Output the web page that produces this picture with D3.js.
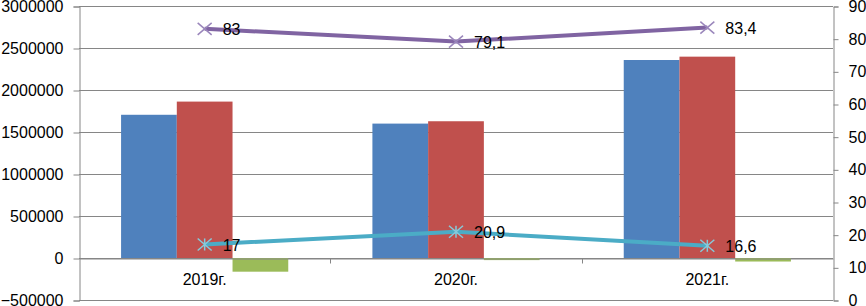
<!DOCTYPE html>
<html lang="ru">
<head>
    <meta charset="UTF-8">
    <title>Chart</title>
    <script src="https://cdn.jsdelivr.net/npm/d3@7"></script>
    <style>
        body { margin: 0; background: #fff; }
        text { font-family: "Liberation Sans", Arial, sans-serif; }
    </style>
</head>
<body>
<script type="application/javascript">
    // категории
    const years = ['2019г.', '2020г.', '2021г.'];
    // столбцы (левая ось)
    const barSeries = ['s1', 's2', 's3'];
    const s1 = [1705000, 1600000, 2357000];
    const s2 = [1862000, 1628000, 2397000];
    const s3 = [-163000, -25000, -42000];
    // линии (правая ось)
    const lineUp = [83, 79.1, 83.4];
    const lineDown = [17, 20.9, 16.6];
    // подписи осей
    const leftTicks = [-500000, 0, 500000, 1000000, 1500000, 2000000, 2500000, 3000000];
    const rightTicks = [0, 10, 20, 30, 40, 50, 60, 70, 80, 90];

    const w = 866, h = 306;
    const plotLeft = 79, plotRight = 833, plotTop = 6, plotBottom = 300;
    const gray = '#868686';

    let svg = d3.select('body')
        .append('svg')
        .attr('width', w)
        .attr('height', h);

    // ось категорий
    let xScale = d3.scaleBand()
        .domain(years)
        .range([plotLeft, plotRight])
        .paddingInner(0)
        .paddingOuter(0);

    let xSub = d3.scaleBand()
        .domain(barSeries)
        .range([0, xScale.bandwidth()])
        .paddingInner(0)
        .paddingOuter(0.755);

    let yScale = d3.scaleLinear()
        .domain([-500000, 3000000])
        .range([plotBottom, plotTop]);

    let y2Scale = d3.scaleLinear()
        .domain([0, 90])
        .range([plotBottom, plotTop]);

    // сетка
    svg.append('g')
        .selectAll('line')
        .data(leftTicks)
        .enter()
        .append('line')
        .attr('x1', plotLeft)
        .attr('x2', plotRight)
        .attr('y1', d => Math.round(yScale(d)) + 0.5)
        .attr('y2', d => Math.round(yScale(d)) + 0.5)
        .attr('stroke', gray)
        .attr('stroke-width', 1);

    // левая ось
    let leftAxis = svg.append('g')
        .attr('transform', 'translate(' + (plotLeft + 0.5) + ',0.5)')
        .call(d3.axisLeft(yScale).tickValues(leftTicks).tickSize(6).tickPadding(10).tickFormat(d3.format('d')));

    // правая ось
    let rightAxis = svg.append('g')
        .attr('transform', 'translate(' + (plotRight + 0.5) + ',0.5)')
        .call(d3.axisRight(y2Scale).tickValues(rightTicks).tickSize(5).tickPadding(10));

    [leftAxis, rightAxis].forEach(a => {
        a.select('.domain').attr('stroke', gray);
        a.selectAll('.tick line').attr('stroke', gray);
        a.selectAll('text').attr('font-size', '16px').attr('fill', '#000')
            .style('font-family', '"Liberation Sans", Arial, sans-serif');
    });

    // столбцы
    const barData = [];
    const colors = { s1: '#4f81bd', s2: '#c0504d', s3: '#9bbb59' };
    const vals = { s1: s1, s2: s2, s3: s3 };
    years.forEach((yr, i) => {
        barSeries.forEach(s => barData.push({ year: yr, key: s, value: vals[s][i] }));
    });

    svg.append('g')
        .selectAll('rect')
        .data(barData)
        .enter()
        .append('rect')
        .attr('x', d => xScale(d.year) + xSub(d.key))
        .attr('width', xSub.bandwidth())
        .attr('y', d => yScale(Math.max(0, d.value)))
        .attr('height', d => Math.abs(yScale(d.value) - yScale(0)))
        .attr('fill', d => colors[d.key]);

    // горизонтальная ось на нуле
    let zeroY = Math.round(yScale(0)) + 0.5;
    let bottomAxis = svg.append('g')
        .attr('transform', 'translate(0,' + zeroY + ')')
        .call(d3.axisBottom(xScale).tickSize(0).tickPadding(15));
    bottomAxis.select('.domain').attr('stroke', gray);
    bottomAxis.selectAll('text').attr('font-size', '16px').attr('fill', '#000')
        .style('font-family', '"Liberation Sans", Arial, sans-serif');

    // засечки между категориями
    svg.append('g')
        .selectAll('line')
        .data(years.slice(1))
        .enter()
        .append('line')
        .attr('x1', d => Math.round(xScale(d)) + 0.5)
        .attr('x2', d => Math.round(xScale(d)) + 0.5)
        .attr('y1', zeroY)
        .attr('y2', zeroY + 5)
        .attr('stroke', gray);

    // линии
    const cx = d => xScale(d) + xScale.bandwidth() / 2;
    const lines = [
        { values: lineUp, color: '#8064a2', marker: '#9a86bb', star: false },
        { values: lineDown, color: '#4bacc6', marker: '#86cadb', star: true }
    ];

    let lineGen = d3.line()
        .x((d, i) => cx(years[i]))
        .y(d => y2Scale(d));

    lines.forEach(l => {
        svg.append('path')
            .datum(l.values)
            .attr('d', lineGen)
            .attr('fill', 'none')
            .attr('stroke', l.color)
            .attr('stroke-width', 4)
            .attr('stroke-linejoin', 'round');

        let m = svg.append('g')
            .selectAll('g')
            .data(l.values)
            .enter()
            .append('g')
            .attr('transform', (d, i) => 'translate(' + cx(years[i]) + ',' + y2Scale(d) + ')')
            .attr('stroke', l.marker)
            .attr('stroke-width', 1.5);
        m.append('line').attr('x1', -7).attr('y1', -6).attr('x2', 7).attr('y2', 6);
        m.append('line').attr('x1', -7).attr('y1', 6).attr('x2', 7).attr('y2', -6);
        if (l.star) {
            m.append('line').attr('x1', 0).attr('y1', -6).attr('x2', 0).attr('y2', 6);
        }
    });

    // подписи значений
    lines.forEach(l => {
        svg.append('g')
            .selectAll('text')
            .data(l.values)
            .enter()
            .append('text')
            .text(d => String(d).replace('.', ','))
            .attr('x', (d, i) => cx(years[i]) + 18)
            .attr('y', d => y2Scale(d) + 1)
            .attr('dy', '0.35em')
            .attr('font-size', '16px')
            .attr('fill', '#000');
    });
</script>
</body>
</html>
